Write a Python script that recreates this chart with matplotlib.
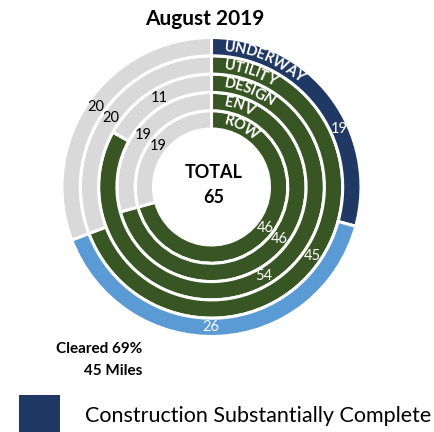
import matplotlib
matplotlib.use("Agg")
import matplotlib.pyplot as plt
from matplotlib.patches import Rectangle
import numpy as np

plt.rcParams['font.family'] = ['Lato', 'DejaVu Sans']

# ---- data ----
title = "August 2019"
total = 65
ring_names = ["ROW", "ENV", "DESIGN", "UTILITY", "UNDERWAY"]  # inner -> outer
ring_values = [
    [46, 19],
    [46, 19],
    [54, 11],
    [45, 20],
    [19, 26, 20],
]
green, navy, lblue, grey = "#375623", "#1F3864", "#5B9BD5", "#D9D9D9"
ring_colors = [
    [green, grey],
    [green, grey],
    [green, grey],
    [green, grey],
    [navy, lblue, grey],
]
label_colors = [
    ["white", "black"],
    ["white", "black"],
    ["white", "black"],
    ["white", "black"],
    ["white", "white", "black"],
]
# angular nudge (deg, clockwise) for individual value labels
label_shift = [
    [0, 0], [0, 0], [0, 0], [0, 0], [13, 3, 0],
]
cleared_text = ["Cleared 69%", "45 Miles"]
legend_label = "Construction Substantially Complete"

# ---- figure ----
W, H = 434, 432
fig = plt.figure(figsize=(W / 100, H / 100), dpi=100)
ax = fig.add_axes([0, 0, 1, 1])

cx, cy = 211.5, H - 187
pitch = 18.3
outer = 149.5
lw = 2.2

for i, (vals, cols) in enumerate(zip(ring_values, ring_colors)):
    R = outer - (len(ring_values) - 1 - i) * pitch
    ax.pie(vals, radius=R, center=(cx, cy), startangle=90, counterclock=False,
           colors=cols,
           wedgeprops=dict(width=pitch, edgecolor="white", linewidth=lw))

ax.set_xlim(0, W)
ax.set_ylim(0, H)
ax.set_aspect("equal")
ax.axis("off")

# value labels
for i, vals in enumerate(ring_values):
    R = outer - (len(ring_values) - 1 - i) * pitch
    rmid = R - pitch / 2
    tot = sum(vals)
    cum = 0
    for j, v in enumerate(vals):
        mid = (cum + v / 2) / tot * 360 + label_shift[i][j]
        cum += v
        th = np.radians(mid)
        ax.text(cx + rmid * np.sin(th), cy + rmid * np.cos(th), str(v),
                ha="center", va="center", fontsize=10.5,
                color=label_colors[i][j])

# curved ring names
renderer = fig.canvas.get_renderer()


def text_width(s, fs):
    t = ax.text(0, 0, s, fontsize=fs, fontweight="bold")
    w = t.get_window_extent(renderer=renderer).width
    t.remove()
    return w


name_fs = 10.5
for i, name in enumerate(ring_names):
    R = outer - (len(ring_values) - 1 - i) * pitch
    rmid = R - pitch / 2 + 0.5
    start = 13.0
    for k, ch in enumerate(name):
        wprefix = text_width(name[:k + 1], name_fs)
        wch = text_width(ch, name_fs)
        pos = start + wprefix - wch / 2
        th = pos / rmid
        ax.text(cx + rmid * np.sin(th), cy + rmid * np.cos(th), ch,
                rotation=-np.degrees(th), rotation_mode="anchor",
                ha="center", va="center", fontsize=name_fs,
                fontweight="bold", color="white")

# title and center text
ax.text(205, H - 25, title, ha="center", va="baseline", fontsize=15,
        fontweight="bold")
ax.text(213.5, H - 178, "TOTAL", ha="center", va="baseline", fontsize=13,
        fontweight="bold")
ax.text(214, H - 203, str(total), ha="center", va="baseline", fontsize=13,
        fontweight="bold")

ax.text(142, H - 353, cleared_text[0], ha="right", va="baseline",
        fontsize=11, fontweight="bold")
ax.text(142, H - 375, cleared_text[1], ha="right", va="baseline",
        fontsize=11, fontweight="bold")

# legend
ax.add_patch(Rectangle((19, -5), 41, H - 395 + 5, facecolor=navy,
                       edgecolor="none", clip_on=False))
ax.text(85, H - 422, legend_label, ha="left", va="baseline", fontsize=15.5)

fig.savefig("out.png", dpi=100)
